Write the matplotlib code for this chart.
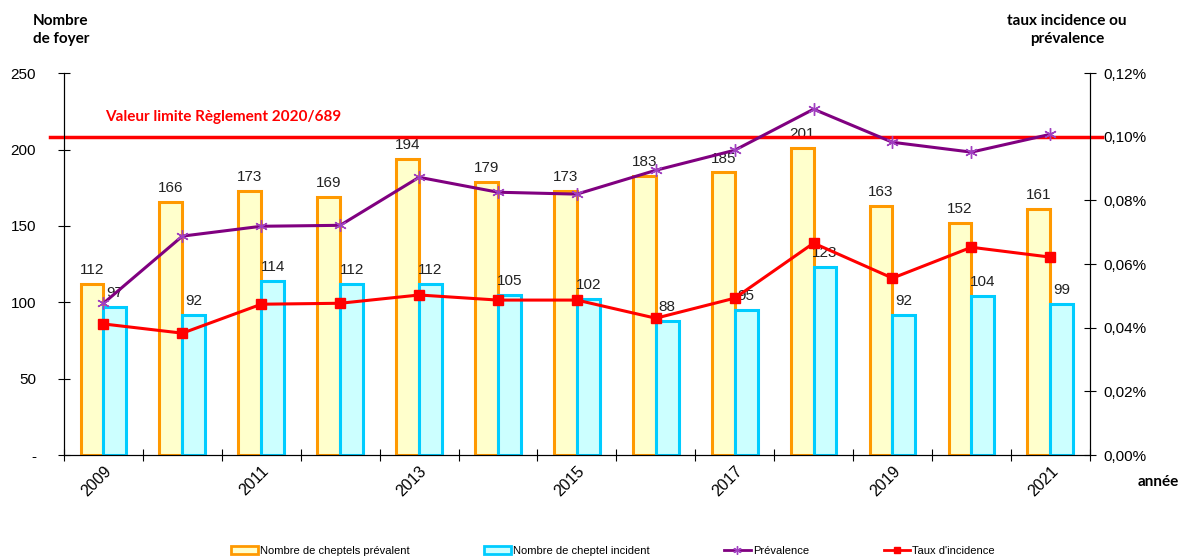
import numpy as np
import matplotlib.pyplot as plt
from matplotlib.patches import Patch
from matplotlib.lines import Line2D

# données
annees = [2009, 2010, 2011, 2012, 2013, 2014, 2015, 2016, 2017, 2018, 2019, 2020, 2021]
prevalent = [112, 166, 173, 169, 194, 179, 173, 183, 185, 201, 163, 152, 161]
incident = [97, 92, 114, 112, 112, 105, 102, 88, 95, 123, 92, 104, 99]
# taux en %
prevalence = [0.0477, 0.0688, 0.0719, 0.0722, 0.0873, 0.0826, 0.0820, 0.0895,
              0.0958, 0.1087, 0.0983, 0.0952, 0.1008]
taux_incidence = [0.0412, 0.0383, 0.0474, 0.0477, 0.0503, 0.0487, 0.0487, 0.0430,
                  0.0493, 0.0666, 0.0556, 0.0653, 0.0622]
valeur_limite = 0.10

plt.rcParams['font.family'] = ['Liberation Sans', 'DejaVu Sans']

fig = plt.figure(figsize=(11.79, 5.59), dpi=100)
ax = fig.add_axes([0.0543, 0.186, 0.870, 0.683])
ax2 = ax.twinx()

x = np.arange(len(annees))
w = 0.29
orange = '#FF9900'
cyan = '#00CCFF'
violet = '#800080'
rouge = '#FF0000'

ax.bar(x - w / 2, prevalent, w, color='#FFFFCC', edgecolor=orange, linewidth=2.2)
ax.bar(x + w / 2, incident, w, color='#CCFFFF', edgecolor=cyan, linewidth=2.2)
for xi, v in zip(x, prevalent):
    ax.annotate(str(v), (xi - w / 2, v), xytext=(0, 5), textcoords='offset points',
                ha='center', va='bottom', fontsize=11, color='#222222')
for xi, v in zip(x, incident):
    ax.annotate(str(v), (xi + w / 2, v), xytext=(0, 5), textcoords='offset points',
                ha='center', va='bottom', fontsize=11, color='#222222')

ax.set_ylim(0, 250)
ax.set_xlim(-0.5, len(annees) - 0.5)
ax.set_yticks([0, 50, 100, 150, 200, 250])
ax.set_yticklabels(['-', '50', '100', '150', '200', '250'], fontsize=11)
ax.tick_params(axis='y', direction='inout', length=8, pad=16)

# graduations entre les années, étiquettes une année sur deux
ax.set_xticks(np.arange(-0.5, len(annees), 1.0))
ax.set_xticklabels([])
ax.tick_params(axis='x', which='major', direction='inout', length=8)
ax.set_xticks(x[::2], minor=True)
ax.set_xticklabels([str(a) for a in annees[::2]], minor=True, rotation=45,
                   ha='right', rotation_mode='anchor', fontsize=11.5)
ax.tick_params(axis='x', which='minor', length=0, pad=6)

ax2.plot(x, prevalence, color=violet, linewidth=2.2, marker=(6, 2, 0),
         markersize=9, markeredgewidth=1.0, markeredgecolor='#A040C0', zorder=3)
ax2.plot(x, taux_incidence, color=rouge, linewidth=2.2, marker='s', markersize=7, zorder=4)
ax2.axhline(valeur_limite, xmin=-0.014, xmax=1.012, color=rouge, linewidth=2.5, clip_on=False)
ax2.text(0.04, valeur_limite + 0.004, 'Valeur limite Règlement 2020/689', color=rouge,
         fontsize=11, fontweight='bold', family=['Lato', 'DejaVu Sans'],
         transform=ax2.get_yaxis_transform(), va='bottom')
ax2.set_ylim(0, 0.12)
ax2.set_yticks(np.arange(0, 0.121, 0.02))
ax2.set_yticklabels([f'{v:.2f}%'.replace('.', ',') for v in np.arange(0, 0.121, 0.02)], fontsize=11)
ax2.tick_params(axis='y', direction='inout', length=8, pad=6)

for a in (ax, ax2):
    a.spines['top'].set_visible(False)
ax.set_zorder(ax2.get_zorder() - 1)
ax.patch.set_visible(False)
ax2.patch.set_visible(False)

# titres d'axes
fig.text(0.028, 0.975, 'Nombre\nde foyer', fontsize=11, fontweight='bold', va='top',
         family=['Lato', 'DejaVu Sans'], linespacing=1.4)
fig.text(0.905, 0.975, 'taux incidence ou\nprévalence', fontsize=11, fontweight='bold',
         va='top', ha='center', family=['Lato', 'DejaVu Sans'], linespacing=1.4)
fig.text(0.965, 0.137, 'année', fontsize=11, fontweight='bold', va='center',
         family=['Lato', 'DejaVu Sans'])

handles = [Patch(facecolor='#FFFFCC', edgecolor=orange, linewidth=2),
           Patch(facecolor='#CCFFFF', edgecolor=cyan, linewidth=2),
           Line2D([], [], color=violet, linewidth=2, marker=(6, 2, 0), markersize=6,
                  markeredgecolor='#A040C0'),
           Line2D([], [], color=rouge, linewidth=2, marker='s', markersize=4)]
labels = ['Nombre de cheptels prévalent', 'Nombre de cheptel incident',
          'Prévalence', "Taux d'incidence"]
fig.legend(handles, labels, loc='lower center', bbox_to_anchor=(0.52, -0.012), ncol=4,
           frameon=False, fontsize=8, columnspacing=6.7, handlelength=2.4, handleheight=0.7,
           handletextpad=0.2)

fig.savefig('out.png', dpi=100)
